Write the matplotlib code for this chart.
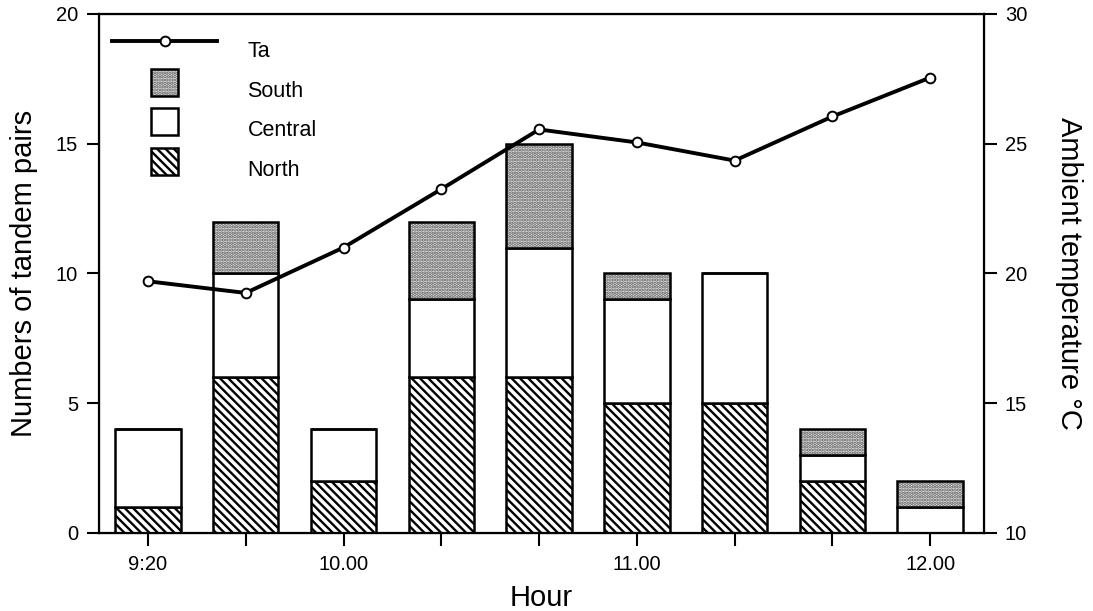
import matplotlib
matplotlib.use("Agg")
import matplotlib.pyplot as plt
import numpy as np
from matplotlib.patches import Rectangle
from matplotlib.legend_handler import HandlerPatch, HandlerBase
from matplotlib.lines import Line2D

plt.rcParams['font.family'] = ['Liberation Sans', 'DejaVu Sans']
plt.rcParams['hatch.linewidth'] = 1.7

times = ["9:20", "9:40", "10:00", "10:20", "10:40", "11:00", "11:20", "11:40", "12:00"]
tick_labels = ["9:20", "", "10.00", "", "", "11.00", "", "", "12.00"]
north = [1, 6, 2, 6, 6, 5, 5, 2, 0]
central = [3, 4, 2, 3, 5, 4, 5, 1, 1]
south = [0, 2, 0, 3, 4, 1, 0, 1, 1]
ta = [19.7, 19.25, 21.0, 23.25, 25.55, 25.05, 24.35, 26.05, 27.55]

x = np.arange(len(times))
north_a = np.array(north, float)
central_a = np.array(central, float)
south_a = np.array(south, float)

SOUTH_FC = '#e4e4e4'
SOUTH_DOT = '#5a5a5a'
NORTH_HATCH = '\\\\\\\\'
SOUTH_HATCH = '.....'
HANDLE_DY = 5.0  # points the legend handles sit above their text

fig = plt.figure(figsize=(10.93, 6.11), dpi=100)
ax = fig.add_axes([0.0906, 0.1277, 0.8097, 0.8494])
w = 0.67
ax.bar(x, north_a, w, color='white', edgecolor='black', hatch=NORTH_HATCH, linewidth=1.8, zorder=2)
ax.bar(x, central_a, w, bottom=north_a, color='white', edgecolor='black', linewidth=1.8, zorder=2)
# south: dotted fill layer then black outline
ax.bar(x, south_a, w, bottom=north_a + central_a, color=SOUTH_FC, edgecolor=SOUTH_DOT,
       hatch=SOUTH_HATCH, linewidth=0, zorder=2)
ax.bar(x, south_a, w, bottom=north_a + central_a, fill=False, edgecolor='black',
       linewidth=1.8, zorder=2.1)

ax.set_xlim(-0.5, 8.55)
ax.set_ylim(0, 20)
ax.set_yticks([0, 5, 10, 15, 20])
ax.set_xticks(x)
ax.set_xticklabels(tick_labels)
ax.tick_params(axis='y', direction='out', length=9, width=1.5, labelsize=14.5, pad=6)
ax.tick_params(axis='x', direction='out', length=9, width=1.5, labelsize=14.5, pad=7)
for s in ax.spines.values():
    s.set_linewidth(1.6)
ax.set_ylabel("Numbers of tandem pairs", fontsize=21, labelpad=13)
ax.set_xlabel("Hour", fontsize=21, labelpad=7)

ax2 = ax.twinx()
ax2.set_ylim(10, 30)
ax2.set_yticks([10, 15, 20, 25, 30])
ax2.plot(x, ta, color='black', lw=2.8, marker='o', markersize=7,
         markerfacecolor='white', markeredgecolor='black', markeredgewidth=1.4, zorder=3)
ax2.tick_params(axis='y', direction='out', length=9, width=1.5, labelsize=14.5, pad=6)
ax2.set_ylabel("Ambient temperature °C", fontsize=21, rotation=270, labelpad=40)


class SmallBoxHandler(HandlerPatch):
    def create_artists(self, legend, orig_handle, xdescent, ydescent, width, height, fontsize, trans):
        s = height * 1.8
        x0 = width / 2 - s / 2 - xdescent
        y0 = height / 2 - s / 2 - ydescent + HANDLE_DY
        arts = []
        if orig_handle.get_hatch() == SOUTH_HATCH:
            arts.append(Rectangle((x0, y0), s, s, facecolor=SOUTH_FC, edgecolor=SOUTH_DOT,
                                  hatch=SOUTH_HATCH, linewidth=0, transform=trans))
            arts.append(Rectangle((x0, y0), s, s, fill=False, edgecolor='black',
                                  linewidth=1.8, transform=trans))
        else:
            arts.append(Rectangle((x0, y0), s, s, facecolor=orig_handle.get_facecolor(),
                                  edgecolor='black', hatch=orig_handle.get_hatch(),
                                  linewidth=1.8, transform=trans))
        return arts


class RaisedLineHandler(HandlerBase):
    def create_artists(self, legend, orig_handle, xdescent, ydescent, width, height, fontsize, trans):
        y = height / 2 - ydescent + HANDLE_DY + 1
        ln = Line2D([-xdescent, width - xdescent], [y, y], color='black', lw=2.8, transform=trans)
        mk = Line2D([width / 2 - xdescent], [y], linestyle='none', marker='o', markersize=7,
                    markerfacecolor='white', markeredgecolor='black', markeredgewidth=1.4,
                    transform=trans)
        return [ln, mk]


h_ta = Line2D([], [], color='black', lw=2.8, marker='o')
h_s = Rectangle((0, 0), 1, 1, facecolor=SOUTH_FC, hatch=SOUTH_HATCH)
h_c = Rectangle((0, 0), 1, 1, facecolor='white')
h_n = Rectangle((0, 0), 1, 1, facecolor='white', hatch=NORTH_HATCH)
ax2.legend([h_ta, h_s, h_c, h_n], ["Ta", "South", "Central", "North"],
           handler_map={Rectangle: SmallBoxHandler(), Line2D: RaisedLineHandler()},
           loc='upper left', bbox_to_anchor=(-0.007, 0.985), frameon=False, fontsize=15.5,
           handlelength=4.88, handletextpad=1.4, labelspacing=0.86)

fig.savefig("out.png", dpi=100)
